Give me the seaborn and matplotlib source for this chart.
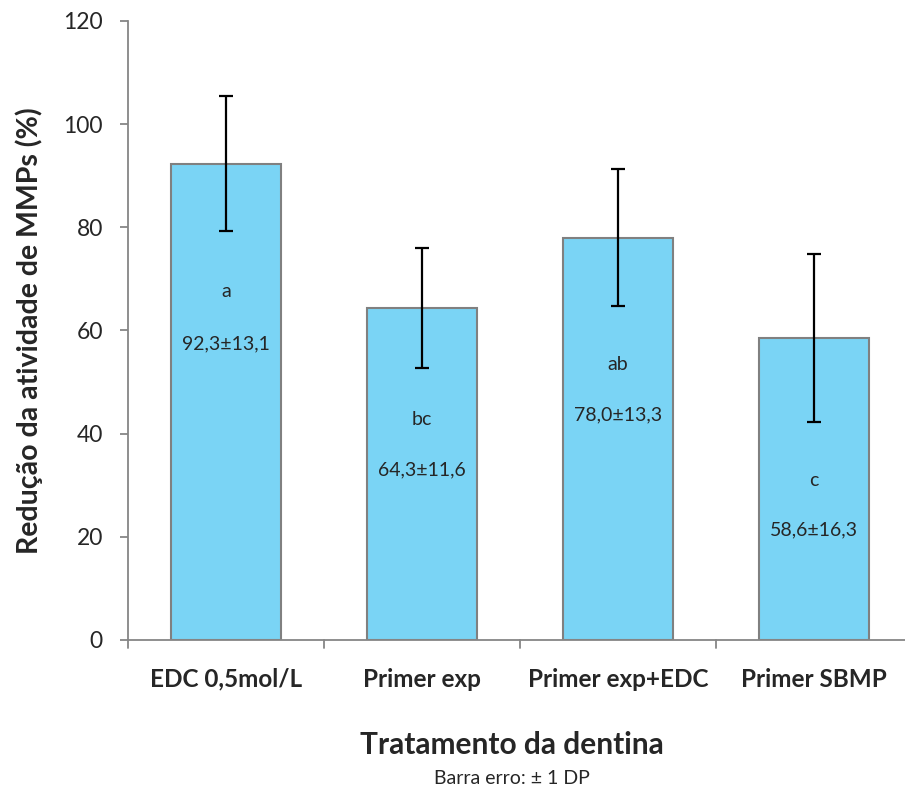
import matplotlib
matplotlib.use("Agg")
import matplotlib.pyplot as plt
import seaborn as sns
import pandas as pd

categories = ["EDC 0,5mol/L", "Primer exp", "Primer exp+EDC", "Primer SBMP"]
means = [92.3, 64.3, 78.0, 58.6]
sds = [13.1, 11.6, 13.3, 16.3]
letters = ["a", "bc", "ab", "c"]
value_labels = ["92,3±13,1", "64,3±11,6", "78,0±13,3", "58,6±16,3"]
letter_y = [67.6, 42.8, 53.5, 31.0]
label_y = [57.5, 32.9, 43.6, 21.3]
yticks = [0, 20, 40, 60, 80, 100, 120]

sns.set_style("white")
plt.rcParams['font.family'] = ['Lato', 'DejaVu Sans']

df = pd.DataFrame({"cat": categories, "val": means})
fig = plt.figure(figsize=(9.05, 7.91), dpi=100)
ax = fig.add_axes([0.1414, 0.1909, 1.0077 - 0.1414, 0.9735 - 0.1909])
sns.barplot(data=df, x="cat", y="val", ax=ax, color="#7AD4F5", saturation=1,
            width=0.56, edgecolor="#808080", linewidth=1.5, errorbar=None)
ax.errorbar(range(len(categories)), means, yerr=sds, fmt="none", ecolor="black",
            elinewidth=1.6, capsize=5, capthick=1.6)
for i in range(len(categories)):
    ax.text(i, letter_y[i], letters[i], ha="center", va="center", fontsize=14)
    ax.text(i, label_y[i], value_labels[i], ha="center", va="center", fontsize=14)

ax.set_xlim(-0.5, 3.5)
ax.set_ylim(0, 120)
ax.set_yticks(yticks)
ax.set_yticklabels([str(t) for t in yticks], fontsize=16.5)
ax.set_xticks(range(len(categories)))
ax.set_xticklabels(categories, fontsize=17.5, fontweight="bold")
ax.tick_params(axis="x", length=0, pad=20)
ax.tick_params(axis="y", length=6, width=1.3, color="#868686", direction="out", left=True, pad=12)
for b in [-0.5, 0.5, 1.5, 2.5, 3.5]:
    ax.plot([b, b], [0, -1.6], color="#868686", lw=1.3, clip_on=False)
for s in ["top", "right"]:
    ax.spines[s].set_visible(False)
for s in ["left", "bottom"]:
    ax.spines[s].set_color("#868686")
    ax.spines[s].set_linewidth(1.3)
ax.set_xlabel("")
ax.set_ylabel("Redução da atividade de MMPs (%)", fontsize=20.5, fontweight="bold", labelpad=15)
fig.text(512 / 905, 1 - 745 / 791, "Tratamento da dentina", ha="center", va="center",
         fontsize=21.5, fontweight="bold")
fig.text(512 / 905, 1 - 778 / 791, "Barra erro: ± 1 DP", ha="center", va="center", fontsize=14)
fig.savefig("out.png", dpi=100)
